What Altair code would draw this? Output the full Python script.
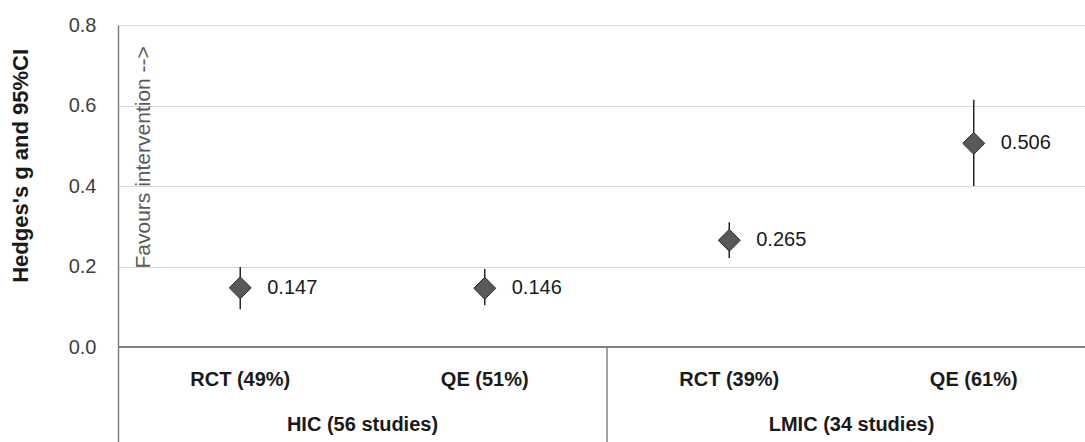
import altair as alt
import pandas as pd

categories = ["RCT (49%)", "QE (51%)", "RCT (39%)", "QE (61%)"]
groups = ["HIC (56 studies)", "HIC (56 studies)", "LMIC (34 studies)", "LMIC (34 studies)"]
g_vals = [0.147, 0.146, 0.265, 0.506]
ci_low = [0.094, 0.104, 0.221, 0.400]
ci_high = [0.199, 0.194, 0.310, 0.614]
value_labels = ["0.147", "0.146", "0.265", "0.506"]
y_ticks = [0.0, 0.2, 0.4, 0.6, 0.8]
y_title = "Hedges's g and 95%CI"
favours_text = "Favours intervention -->"

Y_MIN = -0.236
CAT_Y = -0.082
GROUP_Y = -0.194
X_MAX = 4 * 967 / 978

FONT = "Liberation Sans"

df = pd.DataFrame({
    "pos": [i + 0.5 for i in range(len(categories))],
    "cat": categories,
    "grp": groups,
    "g": g_vals,
    "lo": ci_low,
    "hi": ci_high,
    "lab": value_labels,
    "cy": [CAT_Y] * len(categories),
})
gdf = df.groupby("grp", as_index=False)["pos"].mean()
gdf["gy"] = GROUP_Y
sep = pd.DataFrame({"sx": [float((df["grp"] == groups[0]).sum())], "y0": [0.0], "y1": [Y_MIN]})
zero_df = pd.DataFrame({"zy": [0.0]})
fav_df = pd.DataFrame({"t": [favours_text], "fx": [0.131], "fy": [0.195]})
yt_df = pd.DataFrame({"t": [y_title], "tx": [-0.395], "ty": [0.45]})

xs = alt.Scale(domain=[0, X_MAX], nice=False, zero=False)
ys = alt.Scale(domain=[Y_MIN, 0.8], nice=False, zero=False)

base = alt.Chart(df)

xenc = alt.X("pos:Q", scale=xs, axis=None)

yaxis = alt.Axis(
    values=y_ticks, format=".1f", grid=True, gridColor="#d9d9d9", gridWidth=1.2,
    ticks=False, domainColor="#7f7f7f", domainWidth=1.5,
    labelFont=FONT, labelFontSize=20, labelColor="#404040", labelPadding=22,
    title=None,
)

grid_layer = base.mark_point(opacity=0).encode(
    x=xenc, y=alt.Y("g:Q", scale=ys, axis=yaxis)
)

zero_line = alt.Chart(zero_df).mark_rule(
    color="#7f7f7f", strokeWidth=2
).encode(y=alt.Y("zy:Q", scale=ys))

sep_line = alt.Chart(sep).mark_rule(color="#7f7f7f", strokeWidth=1.5).encode(
    x=alt.X("sx:Q", scale=xs, axis=None),
    y=alt.Y("y0:Q", scale=ys),
    y2=alt.Y2("y1"),
)

err = base.mark_rule(color="#262626", strokeWidth=1.5).encode(
    x=xenc, y=alt.Y("lo:Q", scale=ys), y2=alt.Y2("hi")
)

pts = base.mark_point(
    shape="diamond", size=480, filled=True, fill="#595959",
    stroke="#262626", strokeWidth=1, opacity=1
).encode(x=xenc, y=alt.Y("g:Q", scale=ys))

vlabels = base.mark_text(
    align="left", baseline="middle", dx=27, font=FONT, fontSize=20, color="#1a1a1a"
).encode(x=xenc, y=alt.Y("g:Q", scale=ys), text="lab:N")

cat_labels = base.mark_text(
    align="center", baseline="middle", font=FONT, fontSize=20,
    fontWeight="bold", color="#1a1a1a"
).encode(x=xenc, y=alt.Y("cy:Q", scale=ys), text="cat:N")

group_labels = alt.Chart(gdf).mark_text(
    align="center", baseline="middle", font=FONT, fontSize=20,
    fontWeight="bold", color="#1a1a1a"
).encode(x=alt.X("pos:Q", scale=xs, axis=None), y=alt.Y("gy:Q", scale=ys), text="grp:N")

favours = alt.Chart(fav_df).mark_text(
    angle=270, align="left", baseline="alphabetic", font=FONT, fontSize=21,
    color="#595959"
).encode(
    x=alt.X("fx:Q", scale=xs, axis=None), y=alt.Y("fy:Q", scale=ys), text="t:N"
)

ytitle = alt.Chart(yt_df).mark_text(
    angle=270, align="center", baseline="middle", font=FONT, fontSize=22,
    fontWeight="bold", color="#1a1a1a"
).encode(
    x=alt.X("tx:Q", scale=xs, axis=None), y=alt.Y("ty:Q", scale=ys), text="t:N"
)

chart = alt.layer(
    grid_layer, zero_line, sep_line, err, pts, vlabels, cat_labels, group_labels,
    favours, ytitle
).properties(
    width=967, height=417,
    autosize=alt.AutoSizeParams(type="none"),
    padding={"left": 118, "top": 25, "right": 0, "bottom": 0},
    background="white",
).configure_view(strokeWidth=0)

chart.save("out.html", embed_options={"renderer": "svg", "actions": False})
